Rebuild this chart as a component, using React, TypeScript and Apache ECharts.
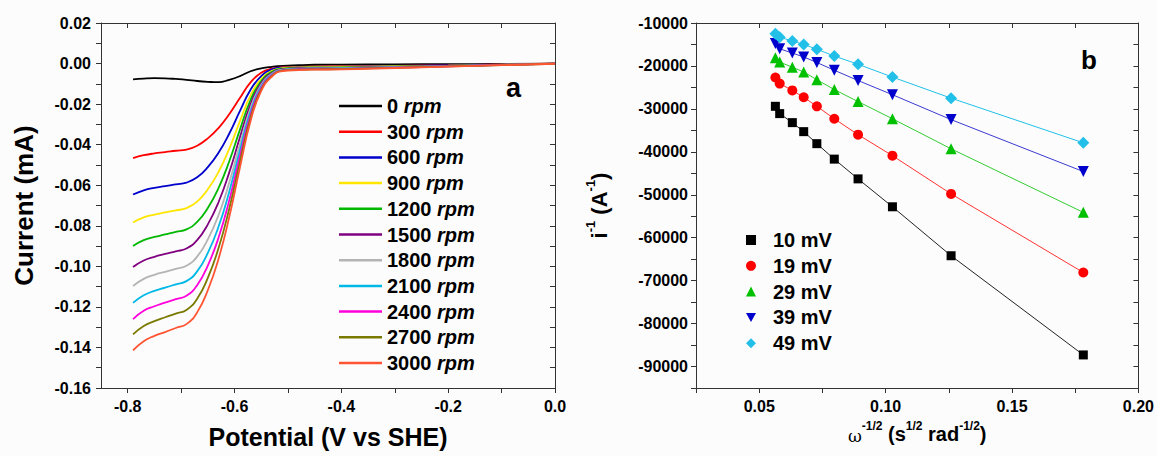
import React, { useEffect, useRef } from 'react';
import * as echarts from 'echarts';

// ---------- Panel a: LSV curves ----------
const potentials = [-0.79, -0.77, -0.75, -0.73, -0.71, -0.69, -0.67, -0.65, -0.63, -0.61, -0.59, -0.57, -0.55, -0.53, -0.51, -0.48, -0.45, -0.40, -0.30, -0.20, -0.10, 0.0];

const rpm0 = [-0.0078, -0.0074, -0.0072, -0.0073, -0.0076, -0.0080, -0.0086, -0.0090, -0.0092, -0.0080, -0.0062, -0.0038, -0.0024, -0.0016, -0.0011, -0.0008, -0.0006, -0.0005, -0.0004, -0.0003, -0.0002, 0];
const rpm300 = [-0.0466, -0.0452, -0.0443, -0.0437, -0.0430, -0.0424, -0.0405, -0.0369, -0.0318, -0.0250, -0.0170, -0.0093, -0.0045, -0.0025, -0.0018, -0.0016, -0.0015, -0.0014, -0.0011, -0.0008, -0.0004, 0];
const rpm600 = [-0.0646, -0.0625, -0.0613, -0.0605, -0.0596, -0.0587, -0.0561, -0.0511, -0.0440, -0.0346, -0.0235, -0.0129, -0.0062, -0.0029, -0.0020, -0.0018, -0.0017, -0.0016, -0.0012, -0.0009, -0.0005, 0];
const rpm900 = [-0.0784, -0.0759, -0.0745, -0.0734, -0.0724, -0.0713, -0.0681, -0.0620, -0.0535, -0.0421, -0.0285, -0.0157, -0.0075, -0.0036, -0.0022, -0.0019, -0.0018, -0.0017, -0.0013, -0.0010, -0.0005, 0];
const rpm1200 = [-0.0900, -0.0871, -0.0855, -0.0843, -0.0830, -0.0818, -0.0781, -0.0712, -0.0614, -0.0483, -0.0327, -0.0180, -0.0086, -0.0041, -0.0025, -0.0021, -0.0020, -0.0019, -0.0015, -0.0011, -0.0006, 0];
const rpm1500 = [-0.1003, -0.0971, -0.0953, -0.0939, -0.0926, -0.0912, -0.0871, -0.0793, -0.0684, -0.0538, -0.0365, -0.0201, -0.0096, -0.0046, -0.0028, -0.0023, -0.0022, -0.0021, -0.0016, -0.0012, -0.0006, 0];
const rpm1800 = [-0.1097, -0.1062, -0.1042, -0.1027, -0.1012, -0.0997, -0.0952, -0.0867, -0.0748, -0.0588, -0.0399, -0.0219, -0.0105, -0.0050, -0.0030, -0.0025, -0.0024, -0.0023, -0.0018, -0.0013, -0.0007, 0];
const rpm2100 = [-0.1180, -0.1143, -0.1121, -0.1105, -0.1089, -0.1073, -0.1025, -0.0934, -0.0805, -0.0633, -0.0429, -0.0236, -0.0113, -0.0054, -0.0032, -0.0026, -0.0025, -0.0024, -0.0019, -0.0013, -0.0007, 0];
const rpm2400 = [-0.1260, -0.1219, -0.1197, -0.1179, -0.1162, -0.1145, -0.1093, -0.0996, -0.0859, -0.0676, -0.0458, -0.0252, -0.0120, -0.0057, -0.0034, -0.0028, -0.0027, -0.0026, -0.0020, -0.0014, -0.0007, 0];
const rpm2700 = [-0.1336, -0.1294, -0.1270, -0.1251, -0.1233, -0.1215, -0.1160, -0.1057, -0.0911, -0.0717, -0.0486, -0.0267, -0.0128, -0.0061, -0.0035, -0.0030, -0.0029, -0.0027, -0.0021, -0.0014, -0.0008, -0.0001];
const rpm3000 = [-0.1414, -0.1369, -0.1343, -0.1324, -0.1304, -0.1285, -0.1227, -0.1118, -0.0964, -0.0758, -0.0514, -0.0283, -0.0135, -0.0064, -0.0037, -0.0032, -0.0030, -0.0029, -0.0022, -0.0015, -0.0008, -0.0001];

const rpmNames = ['0 rpm', '300 rpm', '600 rpm', '900 rpm', '1200 rpm', '1500 rpm', '1800 rpm', '2100 rpm', '2400 rpm', '2700 rpm', '3000 rpm'];
const rpmCurrents = [rpm0, rpm300, rpm600, rpm900, rpm1200, rpm1500, rpm1800, rpm2100, rpm2400, rpm2700, rpm3000];
const rpmColors = ['#000000', '#ff0000', '#0000cc', '#ffe600', '#00b800', '#800080', '#b4b4b4', '#00b8e6', '#ff00dd', '#7a7a00', '#ff5533'];

const aXTicks = [-0.8, -0.7, -0.6, -0.5, -0.4, -0.3, -0.2, -0.1, 0.0];
const aXLabels = [-0.8, -0.6, -0.4, -0.2, 0.0];
const aYTicks = [0.02, 0.01, 0.0, -0.01, -0.02, -0.03, -0.04, -0.05, -0.06, -0.07, -0.08, -0.09, -0.1, -0.11, -0.12, -0.13, -0.14, -0.15, -0.16];
const aYLabels = [0.02, 0.0, -0.02, -0.04, -0.06, -0.08, -0.1, -0.12, -0.14, -0.16];

// ---------- Panel b: Koutecky-Levich ----------
const omegaInvSqrt = [0.0564, 0.0581, 0.0631, 0.0676, 0.0728, 0.0797, 0.0891, 0.1027, 0.1259, 0.1782];
const kl10 = [-29400, -31100, -33200, -35300, -38100, -41700, -46300, -52800, -64200, -87300];
const kl19 = [-22700, -24100, -25700, -27300, -29400, -32300, -36000, -40900, -49800, -68100];
const kl29 = [-18100, -19100, -20300, -21400, -23200, -25500, -28300, -32300, -39300, -54100];
const kl39 = [-14800, -16000, -17000, -17900, -19200, -21000, -23400, -26700, -32500, -44600];
const kl49 = [-12500, -13300, -14200, -15000, -16100, -17700, -19600, -22600, -27500, -37900];

const klNames = ['10 mV', '19 mV', '29 mV', '39 mV', '49 mV'];
const klValues = [kl10, kl19, kl29, kl39, kl49];
const klColors = ['#000000', '#ff0000', '#00c000', '#0000cc', '#22c0e8'];
const klLineColors = ['#222222', '#ff3333', '#33cc33', '#3a3ad0', '#22c0e8'];
const klSymbols = ['rect', 'circle', 'triangle', 'path://M0,0L10,0L5,9Z', 'diamond'];
const klSizes = [9, 10, 11, 11, 12];

const bXTicks = [0.025, 0.05, 0.075, 0.1, 0.125, 0.15, 0.175, 0.2];
const bXLabels = [0.05, 0.1, 0.15, 0.2];
const bYTicks = [-95000, -90000, -85000, -80000, -75000, -70000, -65000, -60000, -55000, -50000, -45000, -40000, -35000, -30000, -25000, -20000, -15000, -10000];
const bYLabels = [-90000, -80000, -70000, -60000, -50000, -40000, -30000, -20000, -10000];

const FONT = 'Arial, "Liberation Sans", sans-serif';
const AXIS = '#333333';

function mainAxis(extra: any) {
  return {
    type: 'value',
    splitLine: { show: false },
    axisLine: { show: true, onZero: false, lineStyle: { color: AXIS, width: 1 } },
    ...extra,
  };
}

export default function App() {
  const ref = useRef<HTMLDivElement>(null);

  useEffect(() => {
    if (!ref.current) return;
    const chart = echarts.init(ref.current, null, { renderer: 'svg' });

    const labelStyle = { fontSize: 16, fontWeight: 'bold', color: '#000', fontFamily: FONT };

    const xAxes = [
      mainAxis({
        gridIndex: 0, position: 'bottom', min: -0.85, max: 0,
        axisTick: { show: true, length: 5, customValues: aXTicks, lineStyle: { color: AXIS } },
        axisLabel: { ...labelStyle, customValues: aXLabels, margin: 10, formatter: (v: number) => v.toFixed(1) },
        name: 'Potential (V vs SHE)', nameLocation: 'middle', nameGap: 36,
        nameTextStyle: { fontSize: 25, fontWeight: 'bold', color: '#000', fontFamily: FONT },
      }),
      mainAxis({
        gridIndex: 0, position: 'top', min: -0.85, max: 0,
        axisTick: { show: true, inside: true, length: 5, customValues: aXTicks, lineStyle: { color: AXIS } },
        axisLabel: { show: false },
      }),
      mainAxis({
        gridIndex: 1, position: 'bottom', min: 0.025, max: 0.2,
        axisTick: { show: true, length: 5, customValues: bXTicks, lineStyle: { color: AXIS } },
        axisLabel: { ...labelStyle, customValues: bXLabels, margin: 10, formatter: (v: number) => v.toFixed(2) },
        name: '{w|ω}{s|-1/2}{n| (s}{s|1/2}{n| rad}{s|-1/2}{n|)}', nameLocation: 'middle', nameGap: 32,
        nameTextStyle: {
          fontFamily: FONT, color: '#000',
          rich: {
            w: { fontSize: 17, fontFamily: '"DejaVu Serif", serif', color: '#000', lineHeight: 24, verticalAlign: 'bottom' },
            n: { fontSize: 20, fontWeight: 'bold', fontFamily: FONT, color: '#000', lineHeight: 24, verticalAlign: 'bottom' },
            s: { fontSize: 12, fontWeight: 'bold', fontFamily: FONT, color: '#000', lineHeight: 12, verticalAlign: 'top' },
          },
        },
      }),
      mainAxis({
        gridIndex: 1, position: 'top', min: 0.025, max: 0.2,
        axisTick: { show: true, inside: true, length: 5, customValues: bXTicks, lineStyle: { color: AXIS } },
        axisLabel: { show: false },
      }),
    ];

    const yAxes = [
      mainAxis({
        gridIndex: 0, position: 'left', min: -0.16, max: 0.02,
        axisTick: { show: true, length: 5, customValues: aYTicks, lineStyle: { color: AXIS } },
        axisLabel: { ...labelStyle, customValues: aYLabels, margin: 10, formatter: (v: number) => (Math.abs(v) < 1e-9 ? '0.00' : v.toFixed(2)) },
        name: 'Current (mA)', nameLocation: 'middle', nameGap: 64,
        nameTextStyle: { fontSize: 26, fontWeight: 'bold', color: '#000', fontFamily: FONT },
      }),
      mainAxis({
        gridIndex: 0, position: 'right', min: -0.16, max: 0.02,
        axisTick: { show: true, inside: true, length: 5, customValues: aYTicks, lineStyle: { color: AXIS } },
        axisLabel: { show: false },
      }),
      mainAxis({
        gridIndex: 1, position: 'left', min: -95000, max: -10000,
        axisTick: { show: true, length: 5, customValues: bYTicks, lineStyle: { color: AXIS } },
        axisLabel: { ...labelStyle, customValues: bYLabels, margin: 8, formatter: (v: number) => String(v) },
        name: '{n|i}{s|-1}{n| (A}{s|-1}{n|)}', nameLocation: 'middle', nameGap: 86,
        nameTextStyle: {
          fontFamily: FONT, color: '#000',
          rich: {
            n: { fontSize: 22, fontWeight: 'bold', fontFamily: FONT, color: '#000', lineHeight: 26, verticalAlign: 'bottom' },
            s: { fontSize: 13, fontWeight: 'bold', fontFamily: FONT, color: '#000', lineHeight: 13, verticalAlign: 'top' },
          },
        },
      }),
      mainAxis({
        gridIndex: 1, position: 'right', min: -95000, max: -10000,
        axisTick: { show: true, inside: true, length: 5, customValues: bYTicks, lineStyle: { color: AXIS } },
        axisLabel: { show: false },
      }),
    ];

    const lsvSeries = rpmNames.map((name, k) => ({
      name,
      type: 'line',
      xAxisIndex: 0,
      yAxisIndex: 0,
      data: potentials.map((p, i) => [p, rpmCurrents[k][i]]),
      smooth: 0.5,
      showSymbol: false,
      symbol: 'none',
      color: rpmColors[k],
      lineStyle: { color: rpmColors[k], width: 1.8 },
    }));

    const klSeries = klNames.map((name, k) => ({
      name,
      type: 'line',
      xAxisIndex: 2,
      yAxisIndex: 2,
      data: omegaInvSqrt.map((x, i) => [x, klValues[k][i]]),
      symbol: klSymbols[k],
      symbolSize: klSizes[k],
      showSymbol: true,
      color: klColors[k],
      itemStyle: { color: klColors[k] },
      lineStyle: { color: klLineColors[k], width: 1 },
    }));

    chart.setOption({
      animation: false,
      backgroundColor: '#fcfcfc',
      grid: [
        { left: 101, top: 23, width: 454, height: 365 },
        { left: 696, top: 23, width: 453, height: 365 },
      ],
      xAxis: xAxes,
      yAxis: yAxes,
      legend: [
        {
          orient: 'vertical',
          left: 334,
          top: 90,
          itemWidth: 43,
          itemHeight: 2.5,
          itemGap: 3.7,
          icon: 'rect',
          selectedMode: false,
          data: rpmNames,
          formatter: (name: string) => `{n|${name.replace(' rpm', '')} }{i|rpm}`,
          textStyle: {
            fontSize: 20, fontWeight: 'bold', fontFamily: FONT, color: '#000', lineHeight: 22,
            rich: {
              n: { fontSize: 20, fontWeight: 'bold', fontFamily: FONT, color: '#000', lineHeight: 22 },
              i: { fontSize: 20, fontWeight: 'bold', fontStyle: 'italic', fontFamily: FONT, color: '#000', lineHeight: 22 },
            },
          },
        },
        {
          orient: 'vertical',
          left: 741,
          top: 224,
          itemWidth: 10,
          itemHeight: 10,
          itemGap: 3.8,
          selectedMode: false,
          data: klNames.map((name, k) => ({ name, icon: klSymbols[k] })),
          textStyle: {
            fontSize: 20, fontWeight: 'bold', fontFamily: FONT, color: '#000', lineHeight: 22,
            padding: [0, 0, 0, 12],
          },
        },
      ],
      graphic: [
        {
          type: 'text', left: 506, top: 74,
          style: { text: 'a', fontSize: 27, fontWeight: 'bold', fontFamily: FONT, fill: '#000' },
        },
        {
          type: 'text', left: 1081, top: 47,
          style: { text: 'b', fontSize: 26, fontWeight: 'bold', fontFamily: FONT, fill: '#000' },
        },
      ],
      series: [...lsvSeries, ...klSeries],
    });

    return () => chart.dispose();
  }, []);

  return (
    <div
      ref={ref}
      style={{ position: 'fixed', left: 0, top: 0, width: 1157, height: 456 }}
    />
  );
}
